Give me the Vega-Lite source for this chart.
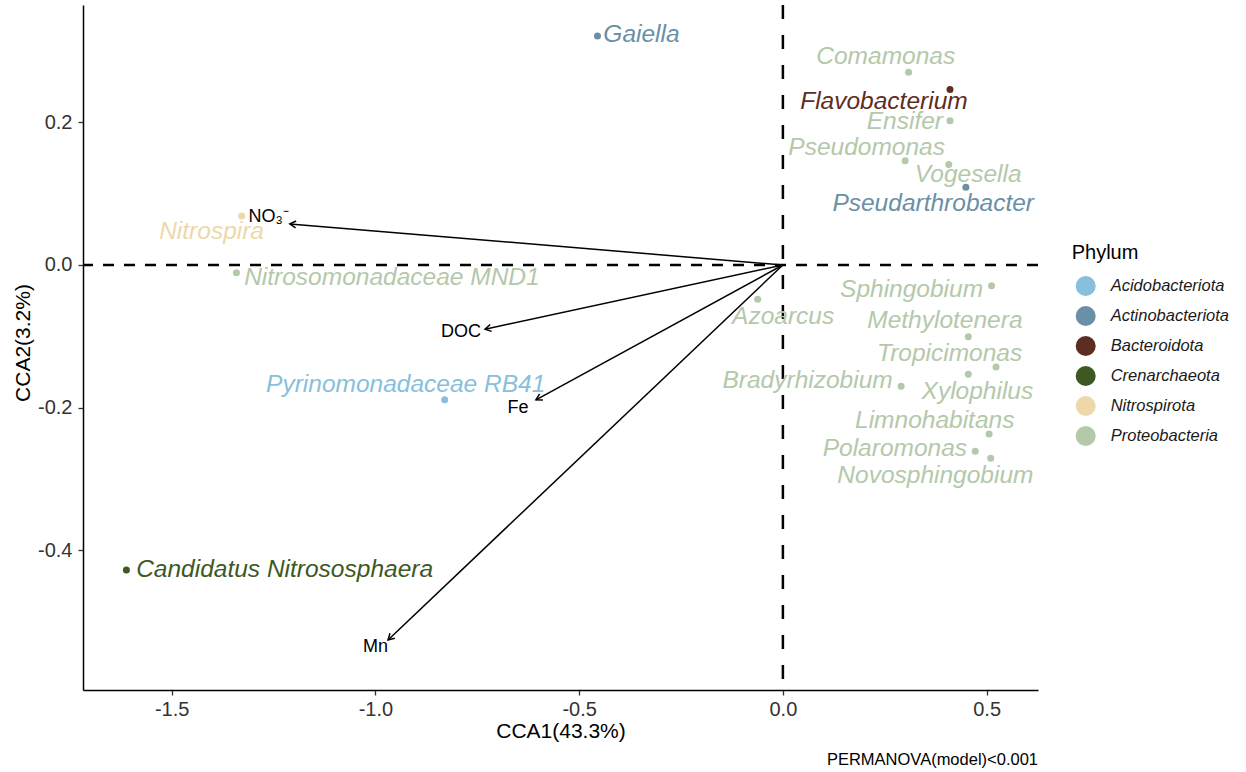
{
  "$schema": "https://vega.github.io/schema/vega-lite/v6.json",
  "width": 955,
  "height": 685,
  "autosize": {"type": "none"},
  "padding": {"left": 83, "top": 5, "right": 208, "bottom": 82},
  "background": "white",
  "config": {
    "font": "Liberation Sans",
    "view": {"stroke": null},
    "axis": {
      "grid": false,
      "domainColor": "black",
      "domainWidth": 1.5,
      "tickColor": "#333333",
      "tickWidth": 1.3,
      "tickSize": 5,
      "labelFontSize": 20,
      "labelColor": "#333333",
      "titleFontSize": 21,
      "titleFontWeight": "normal",
      "titleColor": "black"
    }
  },
  "title": {
    "text": "PERMANOVA(model)<0.001",
    "orient": "bottom",
    "anchor": "end",
    "frame": "group",
    "fontSize": 16.5,
    "fontWeight": "normal",
    "color": "black",
    "offset": 10
  },
  "datasets": {
    "species": [
      {"genus": "Gaiella", "phylum": "Actinobacteriota", "x": -0.455, "y": 0.321, "lx": -0.347, "ly": 0.322},
      {"genus": "Comamonas", "phylum": "Proteobacteria", "x": 0.3085, "y": 0.270, "lx": 0.2523, "ly": 0.2919},
      {"genus": "Flavobacterium", "phylum": "Bacteroidota", "x": 0.410, "y": 0.246, "lx": 0.2479, "ly": 0.2280},
      {"genus": "Ensifer", "phylum": "Proteobacteria", "x": 0.410, "y": 0.202, "lx": 0.2994, "ly": 0.2008},
      {"genus": "Pseudomonas", "phylum": "Proteobacteria", "x": 0.300, "y": 0.146, "lx": 0.2054, "ly": 0.1636},
      {"genus": "Vogesella", "phylum": "Proteobacteria", "x": 0.407, "y": 0.141, "lx": 0.4547, "ly": 0.1261},
      {"genus": "Pseudarthrobacter", "phylum": "Actinobacteriota", "x": 0.449, "y": 0.109, "lx": 0.3688, "ly": 0.0855},
      {"genus": "Nitrospira", "phylum": "Nitrospirota", "x": -1.328, "y": 0.0687, "lx": -1.402, "ly": 0.0467},
      {"genus": "Nitrosomonadaceae MND1", "phylum": "Proteobacteria", "x": -1.341, "y": -0.0108, "lx": -0.9595, "ly": -0.0182},
      {"genus": "Sphingobium", "phylum": "Proteobacteria", "x": 0.512, "y": -0.029, "lx": 0.3158, "ly": -0.0350},
      {"genus": "Azoarcus", "phylum": "Proteobacteria", "x": -0.062, "y": -0.048, "lx": 0.0007, "ly": -0.0725},
      {"genus": "Methylotenera", "phylum": "Proteobacteria", "x": 0.455, "y": -0.1005, "lx": 0.3975, "ly": -0.0785},
      {"genus": "Tropicimonas", "phylum": "Proteobacteria", "x": 0.523, "y": -0.143, "lx": 0.4091, "ly": -0.1247},
      {"genus": "Xylophilus", "phylum": "Proteobacteria", "x": 0.455, "y": -0.153, "lx": 0.4773, "ly": -0.1776},
      {"genus": "Bradyrhizobium", "phylum": "Proteobacteria", "x": 0.290, "y": -0.170, "lx": 0.0606, "ly": -0.1622},
      {"genus": "Limnohabitans", "phylum": "Proteobacteria", "x": 0.506, "y": -0.237, "lx": 0.3725, "ly": -0.2186},
      {"genus": "Polaromonas", "phylum": "Proteobacteria", "x": 0.472, "y": -0.261, "lx": 0.2748, "ly": -0.2583},
      {"genus": "Novosphingobium", "phylum": "Proteobacteria", "x": 0.510, "y": -0.271, "lx": 0.3742, "ly": -0.2957},
      {"genus": "Pyrinomonadaceae RB41", "phylum": "Acidobacteriota", "x": -0.830, "y": -0.189, "lx": -0.9256, "ly": -0.1682},
      {"genus": "Candidatus Nitrososphaera", "phylum": "Crenarchaeota", "x": -1.611, "y": -0.4275, "lx": -1.2228, "ly": -0.4275}
    ],
    "env": [
      {"variable": "NO₃⁻", "x": -1.210, "y": 0.0575, "lx": -1.262, "ly": 0.0677},
      {"variable": "DOC", "x": -0.731, "y": -0.090, "lx": -0.790, "ly": -0.094},
      {"variable": "Fe", "x": -0.606, "y": -0.189, "lx": -0.650, "ly": -0.2005},
      {"variable": "Mn", "x": -0.969, "y": -0.5256, "lx": -1.000, "ly": -0.536}
    ]
  },
  "layer": [
    {
      "data": {"values": [{}]},
      "mark": {"type": "rule", "color": "black", "strokeWidth": 2.5, "strokeDash": [11, 10]},
      "encoding": {
        "y": {"datum": 0, "type": "quantitative", "scale": {"domain": [-0.5957, 0.3644], "nice": false, "zero": false}}
      }
    },
    {
      "data": {"values": [{}]},
      "mark": {"type": "rule", "color": "black", "strokeWidth": 2.5, "strokeDash": [14, 16]},
      "encoding": {
        "x": {"datum": 0, "type": "quantitative", "scale": {"domain": [-1.7175, 0.626], "nice": false, "zero": false}}
      }
    },
    {
      "data": {"name": "env"},
      "mark": {"type": "rule", "color": "black", "strokeWidth": 1.5},
      "encoding": {
        "x": {"field": "x", "type": "quantitative", "scale": {"domain": [-1.7175, 0.626], "nice": false, "zero": false}},
        "y": {"field": "y", "type": "quantitative", "scale": {"domain": [-0.5957, 0.3644], "nice": false, "zero": false}},
        "x2": {"datum": 0},
        "y2": {"datum": 0}
      }
    },
    {
      "data": {"name": "env"},
      "transform": [
        {"calculate": "atan2(datum.x * 407.5, datum.y * 713.5) * 180 / PI", "as": "heading"}
      ],
      "mark": {
        "type": "point",
        "shape": "M-0.5,0.866L0,0L0.5,0.866",
        "filled": false,
        "stroke": "black",
        "strokeWidth": 1.5,
        "size": 196,
        "opacity": 1
      },
      "encoding": {
        "x": {"field": "x", "type": "quantitative", "scale": {"domain": [-1.7175, 0.626], "nice": false, "zero": false}},
        "y": {"field": "y", "type": "quantitative", "scale": {"domain": [-0.5957, 0.3644], "nice": false, "zero": false}},
        "angle": {"field": "heading", "type": "quantitative", "scale": null}
      }
    },
    {
      "data": {"name": "env"},
      "mark": {"type": "text", "fontSize": 18, "color": "black", "align": "center", "baseline": "middle"},
      "encoding": {
        "x": {"field": "lx", "type": "quantitative", "scale": {"domain": [-1.7175, 0.626], "nice": false, "zero": false}},
        "y": {"field": "ly", "type": "quantitative", "scale": {"domain": [-0.5957, 0.3644], "nice": false, "zero": false}},
        "text": {"field": "variable"}
      }
    },
    {
      "data": {"name": "species"},
      "mark": {"type": "point", "filled": true, "opacity": 1, "size": 49, "shape": "circle"},
      "encoding": {
        "x": {
          "field": "x", "type": "quantitative",
          "scale": {"domain": [-1.7175, 0.626], "nice": false, "zero": false},
          "axis": {
            "title": "CCA1(43.3%)",
            "values": [-1.5, -1.0, -0.5, 0.0, 0.5],
            "labelExpr": "datum.value < 0 ? '-' + format(-datum.value, '.1f') : format(datum.value, '.1f')",
            "labelPadding": 4.5,
            "titleY": 41.7,
            "titleBaseline": "middle"
          }
        },
        "y": {
          "field": "y", "type": "quantitative",
          "scale": {"domain": [-0.5957, 0.3644], "nice": false, "zero": false},
          "axis": {
            "title": "CCA2(3.2%)",
            "values": [-0.4, -0.2, 0.0, 0.2],
            "labelExpr": "datum.value < 0 ? '-' + format(-datum.value, '.1f') : format(datum.value, '.1f')",
            "labelPadding": 6,
            "titleX": -60,
            "titleY": 337.5,
            "titleBaseline": "middle"
          }
        },
        "color": {
          "field": "phylum", "type": "nominal",
          "scale": {
            "domain": ["Acidobacteriota", "Actinobacteriota", "Bacteroidota", "Crenarchaeota", "Nitrospirota", "Proteobacteria"],
            "range": ["#87BFDC", "#6A90A6", "#5E2D22", "#3E5823", "#EDD8AA", "#B4C8AA"]
          },
          "legend": {
            "title": "Phylum",
            "orient": "none",
            "legendX": 988.7,
            "legendY": 238,
            "padding": 0,
            "symbolType": "circle",
            "symbolSize": 400,
            "symbolOffset": 4,
            "symbolStrokeWidth": 0,
            "labelOffset": 15,
            "labelFontSize": 16.5,
            "labelFontStyle": "italic",
            "labelColor": "#1A1A1A",
            "titleFontSize": 20,
            "titleFontWeight": "normal",
            "titleColor": "black",
            "titlePadding": 13,
            "rowPadding": 10
          }
        }
      }
    },
    {
      "data": {"name": "species"},
      "mark": {"type": "text", "fontSize": 24.5, "fontStyle": "italic", "align": "center", "baseline": "middle"},
      "encoding": {
        "x": {"field": "lx", "type": "quantitative", "scale": {"domain": [-1.7175, 0.626], "nice": false, "zero": false}},
        "y": {"field": "ly", "type": "quantitative", "scale": {"domain": [-0.5957, 0.3644], "nice": false, "zero": false}},
        "text": {"field": "genus"},
        "color": {"field": "phylum", "type": "nominal", "legend": null}
      }
    }
  ]
}
